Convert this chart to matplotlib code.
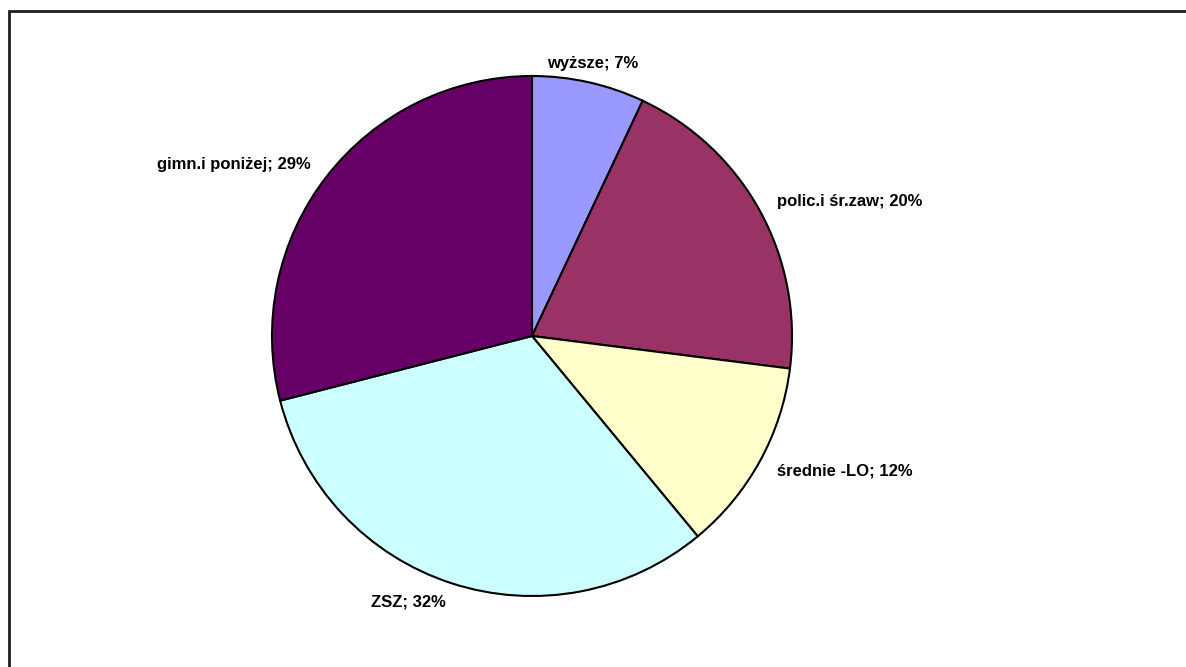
import matplotlib
matplotlib.use("Agg")
import matplotlib.pyplot as plt
from matplotlib.patches import Rectangle

# dane
labels = ["wyższe", "polic.i śr.zaw", "średnie -LO", "ZSZ", "gimn.i poniżej"]
values = [7, 20, 12, 32, 29]
colors = ["#9999FF", "#993366", "#FFFFCC", "#CCFFFF", "#660066"]

plt.rcParams['font.family'] = ['Liberation Sans', 'DejaVu Sans']

W, H = 1186, 667
fig = plt.figure(figsize=(W / 100, H / 100), dpi=100)

# ramka wykresu (prawa i dolna krawędź poza obrazkiem)
fig.add_artist(Rectangle((8.5 / W, -0.2), 1.3, 1.2 - 10.5 / H,
                         transform=fig.transFigure, fill=False,
                         edgecolor="#202020", linewidth=2))

cx, cy, r = 532, 336, 260
ax = fig.add_axes([(cx - r) / W, (H - cy - r) / H, 2 * r / W, 2 * r / H])

texts = [f"{l}; {v}%" for l, v in zip(labels, values)]
wedges, txt = ax.pie(values, colors=colors, startangle=90, counterclock=False,
                     labels=texts, labeldistance=1.075,
                     wedgeprops=dict(edgecolor="black", linewidth=1.5),
                     textprops=dict(fontsize=12, fontweight="bold", color="black"))
txt[0].set_ha("center")
ax.set_xlim(-1, 1)
ax.set_ylim(-1, 1)
ax.set_aspect("equal")
ax.axis("off")

fig.savefig("out.png", dpi=100)
